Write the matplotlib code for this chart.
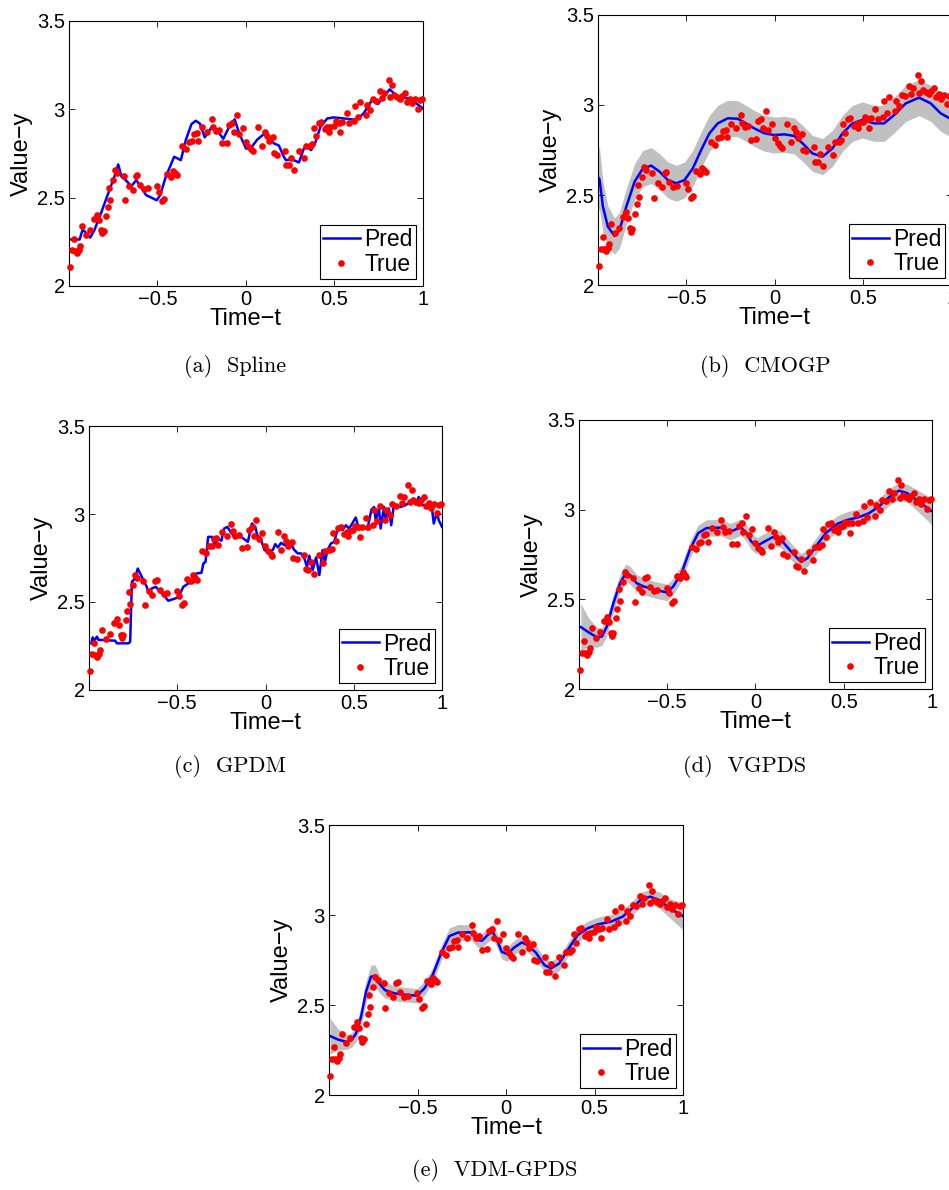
import numpy as np
import matplotlib
matplotlib.use('Agg')
import matplotlib.pyplot as plt
from matplotlib.ticker import FuncFormatter

plt.rcParams['font.family'] = ['Liberation Sans', 'DejaVu Sans']

# dados observados (True), iguais em todos os paineis
true_t = [-0.992, -0.985, -0.974, -0.966, -0.955, -0.945, -0.940, -0.925, -0.902, -0.880,
          -0.857, -0.842, -0.831, -0.820, -0.814, -0.805, -0.793, -0.782, -0.773, -0.767,
          -0.752, -0.741, -0.726, -0.692, -0.684, -0.660, -0.641, -0.624, -0.613, -0.598,
          -0.575, -0.556, -0.504, -0.489, -0.472, -0.462, -0.444, -0.425, -0.410, -0.400,
          -0.391, -0.361, -0.338, -0.320, -0.306, -0.293, -0.278, -0.271, -0.248, -0.218,
          -0.194, -0.184, -0.171, -0.150, -0.135, -0.105, -0.094, -0.077, -0.068, -0.053,
          -0.038, -0.019, -0.002, 0.015, 0.030, 0.038, 0.068, 0.090, 0.105, 0.117,
          0.130, 0.150, 0.158, 0.177, 0.220, 0.227, 0.241, 0.256, 0.274, 0.301,
          0.327, 0.338, 0.361, 0.374, 0.383, 0.398, 0.412, 0.425, 0.444, 0.459,
          0.470, 0.477, 0.496, 0.508, 0.526, 0.534, 0.545, 0.568, 0.583, 0.609,
          0.617, 0.632, 0.647, 0.677, 0.684, 0.703, 0.718, 0.737, 0.759, 0.771,
          0.782, 0.806, 0.816, 0.827, 0.835, 0.853, 0.868, 0.882, 0.897, 0.910,
          0.925, 0.940, 0.955, 0.970, 0.981, 0.996]
true_y = [2.108, 2.202, 2.268, 2.198, 2.189, 2.206, 2.227, 2.340, 2.287, 2.319,
          2.380, 2.404, 2.372, 2.315, 2.297, 2.312, 2.395, 2.448, 2.555, 2.489,
          2.599, 2.655, 2.637, 2.621, 2.485, 2.565, 2.542, 2.621, 2.627, 2.570,
          2.546, 2.552, 2.565, 2.533, 2.482, 2.493, 2.631, 2.618, 2.652, 2.637,
          2.627, 2.792, 2.778, 2.816, 2.820, 2.858, 2.863, 2.822, 2.897, 2.873,
          2.945, 2.901, 2.875, 2.882, 2.807, 2.810, 2.909, 2.924, 2.873, 2.967,
          2.860, 2.894, 2.816, 2.788, 2.773, 2.763, 2.897, 2.795, 2.873, 2.848,
          2.818, 2.841, 2.750, 2.744, 2.765, 2.686, 2.682, 2.727, 2.659, 2.765,
          2.722, 2.792, 2.793, 2.803, 2.892, 2.846, 2.920, 2.926, 2.886, 2.897,
          2.873, 2.901, 2.907, 2.931, 2.924, 2.871, 2.926, 2.977, 2.924, 2.935,
          3.020, 2.958, 3.043, 2.967, 3.024, 2.996, 3.056, 3.048, 3.105, 3.062,
          3.094, 3.166, 3.067, 3.135, 3.082, 3.071, 3.060, 3.077, 3.094, 3.043,
          3.060, 3.033, 3.058, 3.003, 3.052, 3.058]

# (a) Spline
spline_t = [-0.992, -0.940, -0.923, -0.902, -0.880, -0.857, -0.820, -0.782, -0.744, -0.722,
            -0.703, -0.680, -0.647, -0.620, -0.594, -0.564, -0.504, -0.485, -0.453, -0.406,
            -0.387, -0.368, -0.340, -0.308, -0.284, -0.261, -0.233, -0.190, -0.162, -0.128,
            -0.090, -0.064, -0.038, 0.000, 0.030, 0.064, 0.102, 0.130, 0.158, 0.186,
            0.214, 0.226, 0.261, 0.299, 0.327, 0.346, 0.368, 0.391, 0.421, 0.459,
            0.496, 0.553, 0.609, 0.628, 0.665, 0.712, 0.746, 0.778, 0.812, 0.853,
            0.910, 0.957, 1.000]
spline_y = [2.263, 2.263, 2.319, 2.300, 2.274, 2.315, 2.410, 2.514, 2.618, 2.688,
            2.618, 2.599, 2.565, 2.599, 2.561, 2.514, 2.485, 2.514, 2.618, 2.731,
            2.722, 2.712, 2.826, 2.916, 2.935, 2.920, 2.841, 2.905, 2.878, 2.833,
            2.911, 2.943, 2.863, 2.778, 2.784, 2.829, 2.860, 2.835, 2.807, 2.795,
            2.731, 2.712, 2.716, 2.699, 2.778, 2.787, 2.769, 2.810, 2.901, 2.948,
            2.954, 2.948, 2.942, 2.944, 2.977, 3.052, 3.030, 3.071, 3.113, 3.075,
            3.062, 3.037, 3.005]

# (b) CMOGP
cmogp_t = [-1.000, -0.991, -0.972, -0.944, -0.906, -0.878, -0.840, -0.793, -0.746, -0.699,
           -0.652, -0.605, -0.558, -0.511, -0.464, -0.417, -0.370, -0.323, -0.267, -0.211,
           -0.164, -0.117, -0.060, -0.004, 0.053, 0.109, 0.156, 0.212, 0.269, 0.325,
           0.382, 0.438, 0.494, 0.560, 0.617, 0.673, 0.739, 0.814, 0.880, 0.936,
           0.987, 1.000]
cmogp_y = [2.600, 2.587, 2.435, 2.324, 2.272, 2.306, 2.435, 2.574, 2.648, 2.663,
           2.630, 2.583, 2.565, 2.583, 2.648, 2.750, 2.843, 2.898, 2.926, 2.924,
           2.898, 2.870, 2.843, 2.833, 2.837, 2.828, 2.787, 2.731, 2.713, 2.759,
           2.843, 2.898, 2.917, 2.898, 2.898, 2.944, 3.009, 3.041, 3.009, 2.954,
           2.926, 2.920]
cmogp_w = [0.180, 0.170, 0.140, 0.115, 0.100, 0.100, 0.100, 0.100, 0.100, 0.100,
           0.100, 0.100, 0.100, 0.100, 0.100, 0.100, 0.100, 0.100, 0.100, 0.100,
           0.100, 0.100, 0.100, 0.100, 0.100, 0.100, 0.100, 0.100, 0.100, 0.100,
           0.100, 0.100, 0.100, 0.100, 0.100, 0.100, 0.100, 0.100, 0.100, 0.100,
           0.100, 0.100]

# (c) GPDM
gpdm_t = [-0.987, -0.979, -0.970, -0.955, -0.946, -0.927, -0.852, -0.842, -0.776, -0.767,
          -0.757, -0.739, -0.724, -0.701, -0.673, -0.660, -0.645, -0.622, -0.598, -0.570,
          -0.551, -0.494, -0.466, -0.438, -0.404, -0.391, -0.363, -0.352, -0.340, -0.325,
          -0.303, -0.288, -0.269, -0.250, -0.235, -0.216, -0.195, -0.175, -0.147, -0.118,
          -0.100, -0.077, -0.058, -0.047, -0.028, -0.006, 0.017, 0.041, 0.055, 0.070,
          0.088, 0.107, 0.126, 0.141, 0.160, 0.182, 0.201, 0.220, 0.235, 0.248,
          0.267, 0.286, 0.305, 0.323, 0.336, 0.351, 0.370, 0.389, 0.412, 0.436,
          0.455, 0.474, 0.511, 0.530, 0.558, 0.577, 0.600, 0.615, 0.624, 0.643,
          0.652, 0.671, 0.680, 0.699, 0.712, 0.727, 0.765, 0.793, 0.831, 0.850,
          0.868, 0.887, 0.925, 0.944, 0.953, 0.972, 0.981, 1.000]
gpdm_y = [2.265, 2.299, 2.280, 2.303, 2.284, 2.284, 2.280, 2.265, 2.265, 2.274,
          2.615, 2.634, 2.690, 2.643, 2.586, 2.549, 2.577, 2.586, 2.561, 2.530,
          2.507, 2.526, 2.586, 2.605, 2.615, 2.662, 2.666, 2.719, 2.728, 2.870,
          2.870, 2.823, 2.861, 2.848, 2.917, 2.927, 2.893, 2.870, 2.876, 2.855,
          2.842, 2.946, 2.927, 2.880, 2.861, 2.795, 2.785, 2.795, 2.829, 2.810,
          2.836, 2.823, 2.823, 2.842, 2.799, 2.776, 2.776, 2.747, 2.700, 2.763,
          2.681, 2.753, 2.653, 2.795, 2.725, 2.795, 2.832, 2.842, 2.927, 2.908,
          2.936, 2.917, 2.980, 2.912, 2.927, 2.912, 3.025, 3.040, 2.965, 3.031,
          2.918, 3.040, 2.965, 3.031, 2.936, 3.050, 3.040, 3.050, 3.078, 3.055,
          3.097, 3.050, 3.054, 3.022, 2.946, 3.012, 2.965, 2.927]

# (d) VGPDS
vgpds_t = [-0.989, -0.945, -0.898, -0.870, -0.842, -0.805, -0.767, -0.735, -0.711, -0.673,
           -0.635, -0.570, -0.500, -0.466, -0.419, -0.372, -0.325, -0.278, -0.194, -0.147,
           -0.118, -0.085, -0.053, -0.024, 0.009, 0.051, 0.098, 0.145, 0.201, 0.258,
           0.295, 0.342, 0.398, 0.464, 0.521, 0.586, 0.643, 0.699, 0.756, 0.812,
           0.859, 0.925, 1.000]
vgpds_y = [2.345, 2.316, 2.288, 2.293, 2.349, 2.479, 2.590, 2.646, 2.635, 2.590,
           2.572, 2.553, 2.538, 2.572, 2.646, 2.776, 2.869, 2.897, 2.900, 2.878,
           2.887, 2.902, 2.873, 2.822, 2.798, 2.822, 2.847, 2.832, 2.767, 2.709,
           2.730, 2.795, 2.869, 2.921, 2.943, 2.958, 2.980, 3.017, 3.069, 3.106,
           3.092, 3.045, 2.990]
vgpds_w = [0.130, 0.080, 0.055, 0.050, 0.050, 0.050, 0.050, 0.050, 0.050, 0.048,
           0.046, 0.046, 0.046, 0.046, 0.046, 0.046, 0.046, 0.046, 0.046, 0.046,
           0.046, 0.046, 0.046, 0.046, 0.046, 0.046, 0.046, 0.046, 0.046, 0.046,
           0.046, 0.046, 0.046, 0.046, 0.046, 0.046, 0.046, 0.046, 0.046, 0.046,
           0.050, 0.060, 0.075]

# (e) VDM-GPDS
vdm_t = [-0.994, -0.951, -0.898, -0.872, -0.847, -0.819, -0.791, -0.763, -0.740, -0.716,
         -0.684, -0.631, -0.556, -0.503, -0.461, -0.414, -0.367, -0.320, -0.273, -0.198,
         -0.160, -0.136, -0.104, -0.075, -0.047, -0.024, 0.006, 0.047, 0.089, 0.122,
         0.169, 0.217, 0.254, 0.301, 0.348, 0.405, 0.461, 0.518, 0.593, 0.659,
         0.706, 0.763, 0.815, 0.866, 0.932, 1.000]
vdm_y = [2.328, 2.309, 2.294, 2.306, 2.343, 2.435, 2.574, 2.657, 2.663, 2.620,
         2.583, 2.565, 2.556, 2.552, 2.593, 2.667, 2.787, 2.883, 2.902, 2.904,
         2.861, 2.857, 2.889, 2.907, 2.852, 2.796, 2.783, 2.820, 2.848, 2.833,
         2.791, 2.722, 2.704, 2.731, 2.806, 2.889, 2.926, 2.948, 2.963, 2.991,
         3.031, 3.087, 3.102, 3.083, 3.033, 2.994]
vdm_w = [0.100, 0.060, 0.040, 0.040, 0.045, 0.055, 0.060, 0.065, 0.060, 0.050,
         0.045, 0.042, 0.040, 0.040, 0.040, 0.040, 0.042, 0.045, 0.045, 0.042,
         0.040, 0.040, 0.040, 0.040, 0.040, 0.040, 0.040, 0.040, 0.040, 0.040,
         0.040, 0.040, 0.040, 0.040, 0.040, 0.040, 0.040, 0.040, 0.040, 0.040,
         0.040, 0.040, 0.040, 0.045, 0.055, 0.075]

captions = ['(a)  Spline', '(b)  CMOGP', '(c)  GPDM', '(d)  VGPDS', '(e)  VDM-GPDS']

fig = plt.figure(figsize=(9.49, 11.9), dpi=100)

# posicoes dos eixos em fracao da figura (left, bottom, width, height)
pos = [[0.0727, 0.7597, 0.3730, 0.2227],
       [0.6301, 0.7605, 0.3730, 0.2269],
       [0.0938, 0.4202, 0.3720, 0.2218],
       [0.6101, 0.4210, 0.3720, 0.2261],
       [0.3467, 0.0798, 0.3730, 0.2269]]
cap_xy = [(235, 366), (765, 366), (230, 766), (745, 766), (495, 1170)]

preds = [(spline_t, spline_y, None),
         (cmogp_t, cmogp_y, cmogp_w),
         (gpdm_t, gpdm_y, None),
         (vgpds_t, vgpds_y, vgpds_w),
         (vdm_t, vdm_y, vdm_w)]

# rotulos estilo MATLAB, com sinal de menos longo
fmt = FuncFormatter(lambda v, p: ('%g' % v).replace('-', '\u2212'))

for i in range(5):
    ax = fig.add_axes(pos[i])
    t, y, w = preds[i]
    t = np.array(t)
    y = np.array(y)
    if w is not None:
        w = np.array(w)
        ax.fill_between(t, y - w, y + w, color='#c0c0c0', lw=0, zorder=1)
    ax.plot(t, y, color='#0000ff', lw=1.8, label='Pred', zorder=2)
    ax.plot(true_t, true_y, 'o', color='red', ms=4.8, mec='none', label='True',
            zorder=3, clip_on=False)

    ax.set_xlim(-1, 1)
    ax.set_ylim(2, 3.5)
    ax.set_xticks([-0.5, 0, 0.5, 1])
    ax.set_yticks([2, 2.5, 3, 3.5])
    ax.xaxis.set_major_formatter(fmt)
    ax.yaxis.set_major_formatter(fmt)
    ax.tick_params(direction='in', top=True, right=True, length=4, width=0.6,
                   labelsize=14.5, pad=3)
    for s in ax.spines.values():
        s.set_linewidth(0.8)
    ax.set_xlabel('Time\u2212t', fontsize=17, labelpad=-1)
    ax.set_ylabel('Value\u2212y', fontsize=17, labelpad=3)

    leg = ax.legend(loc='lower right', fontsize=16.5, handlelength=1.6,
                    handletextpad=0.2, borderpad=0.15, labelspacing=0.05,
                    borderaxespad=0.3, fancybox=False, framealpha=1,
                    edgecolor='black', numpoints=1)
    leg.get_frame().set_linewidth(0.8)

    cx, cy = cap_xy[i]
    fig.text(cx / 949, 1 - cy / 1190, captions[i], family='cmr10', fontsize=16,
             ha='center', va='center')

plt.savefig('out.png', dpi=100)
